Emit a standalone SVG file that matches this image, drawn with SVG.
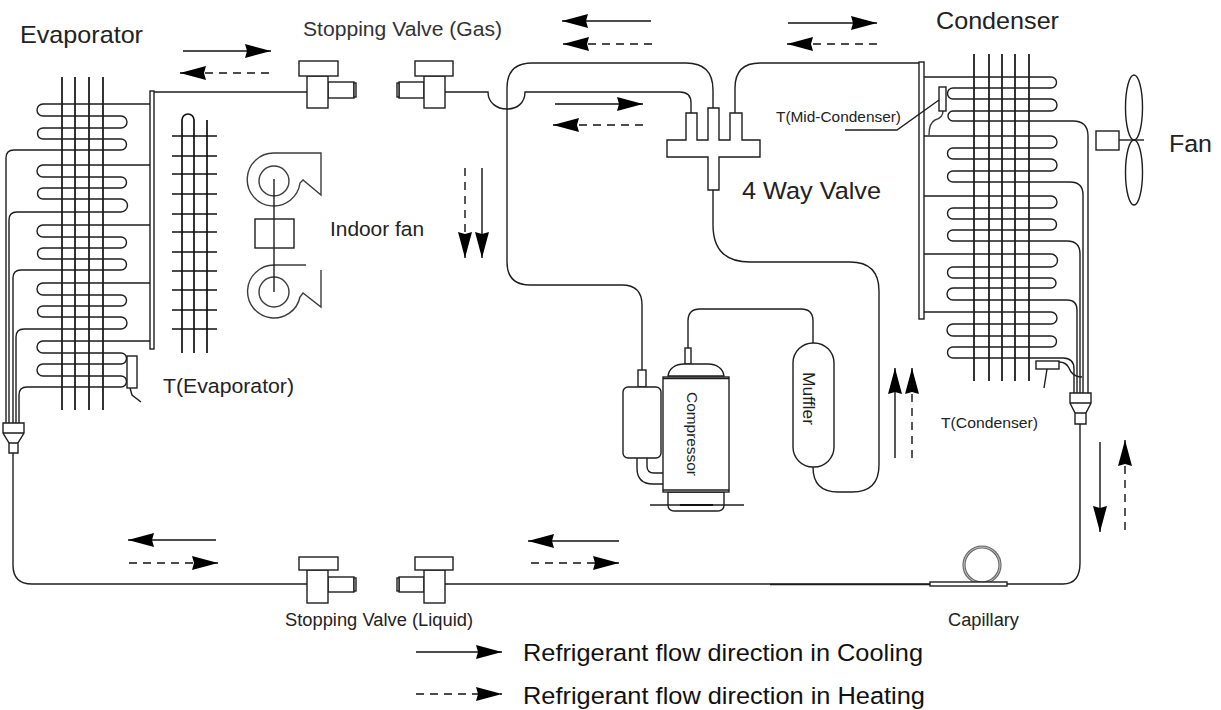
<svg xmlns="http://www.w3.org/2000/svg" width="1221" height="710" viewBox="0 0 1221 710">
<defs>
<style>
text{font-family:"Liberation Sans",Arial,sans-serif;fill:#222}
.l{fill:none;stroke:#1e1e1e;stroke-width:1.4}
.f{fill:none;stroke:#111;stroke-width:1.7}
.b{fill:#fff;stroke:#1e1e1e;stroke-width:1.4}
.g{fill:none;stroke:#3c3c3c;stroke-width:1.4}
.s{fill:none;stroke:#111;stroke-width:1.4;marker-end:url(#h)}
.d{fill:none;stroke:#111;stroke-width:1.4;stroke-dasharray:8 6;marker-end:url(#h)}
</style>
<marker id="h" markerUnits="userSpaceOnUse" markerWidth="28" markerHeight="16" refX="26" refY="8" orient="auto"><path d="M0 1L26 8L0 15L2 8Z" fill="#000"/></marker>
</defs>
<rect width="1221" height="710" fill="#fff"/>
<g id="connectors">
<path class="l" d="M154 92H307"/>
<path class="l" d="M445 92H488C488 103 497 109 507 109C517 109 525 103 525 92H680Q691 92 691 103V113"/>
<path class="l" d="M713 108V90Q713 63 686 63H532Q507 63 507 88V262Q507 285 530 285H622Q642 285 642 305V370"/>
<path class="l" d="M735 113V88Q735 63 760 63H919"/>
<path class="l" d="M713 190V225Q713 262 750 262H850Q879 262 879 291V465Q879 492 852 492H838Q813 492 813 467"/>
<path class="l" d="M813 343V321Q813 309 801 309H700Q688 309 688 321V348"/>
<path class="l" d="M637 458V468Q637 484 653 484H663"/>
<path class="l" d="M647 458V466Q647 473 654 473H663"/>
<path class="l" d="M13 453V565Q13 584 32 584H307"/>
<path class="l" d="M445 584H1063Q1080 584 1080 563V424"/>
<path class="l" d="M770 584.500H930" stroke-width="2"/>
</g>
<g id="flow-arrows">
<path class="s" d="M183 51H271"/><path class="d" d="M269 73H180"/>
<path class="s" d="M651 21H562"/><path class="d" d="M652 44H563"/>
<path class="s" d="M788 23H877"/><path class="d" d="M877 44H787"/>
<path class="s" d="M555 104H643"/><path class="d" d="M643 125H553"/>
<path class="d" d="M465 168V258"/><path class="s" d="M482 168V258"/>
<path class="s" d="M895 458V368"/><path class="d" d="M912 458V368"/>
<path class="s" d="M1100 442V532"/><path class="d" d="M1125 530V440"/>
<path class="s" d="M216 540H128"/><path class="d" d="M129 563H218"/>
<path class="s" d="M619 541H528"/><path class="d" d="M531 563H619"/>
</g>
<g id="evaporator">
<path class="f" d="M62 77V410M75 77V410M89 77V410M103 77V410"/>
<path class="l" d="M150 104H43A6 6 0 0 0 43 116H121A6 6 0 0 1 121 128H43A5.500 5.500 0 0 0 43 139H121A5.500 5.500 0 0 1 121 150H14Q6 150 6 158V423"/>
<path class="l" d="M150 165H43A6 6 0 0 0 43 177H121A5.500 5.500 0 0 1 121 188H43A5.500 5.500 0 0 0 43 199H121A6.500 6.500 0 0 1 121 212H17Q9 212 9 220V423"/>
<path class="l" d="M150 225H43A6 6 0 0 0 43 237H121A5.500 5.500 0 0 1 121 248H43A5.500 5.500 0 0 0 43 259H121A5.500 5.500 0 0 1 121 270H21Q13 270 13 278V423"/>
<path class="l" d="M150 283H43A6 6 0 0 0 43 295H121A5.500 5.500 0 0 1 121 306H43A5.500 5.500 0 0 0 43 317H121A6 6 0 0 1 121 329H24Q16 329 16 337V423"/>
<path class="l" d="M150 341H43A6 6 0 0 0 43 353H121A5.500 5.500 0 0 1 121 364H43A6 6 0 0 0 43 376H121A5.500 5.500 0 0 1 121 387H27Q19 387 19 395V423"/>
<rect class="b" x="150" y="91" width="4" height="258"/>
<path class="b" d="M3 423H24V433L18 443V453H9V443L3 433Z"/>
<path class="l" d="M3 433H24M9 443H18"/>
<text x="20" y="43" font-size="24" textLength="123" lengthAdjust="spacingAndGlyphs">Evaporator</text>
</g>
<g id="sensor-evaporator">
<rect class="b" x="127" y="356" width="10" height="32"/>
<path class="l" d="M130 388L132 395L141 402"/>
<text x="163" y="393" font-size="20.500" textLength="131" lengthAdjust="spacingAndGlyphs">T(Evaporator)</text>
</g>
<g id="indoor-coil">
<path class="f" d="M182 353V120A6 6 0 0 1 194 120V353M207 120V353"/>
<path class="f" d="M172 136H217M172 156H217M172 174H217M172 194H217M172 214H217M172 232H217M172 252H217M172 271H217M172 290H217M172 310H217M172 329H217"/>
</g>
<g id="indoor-fan">
<path class="g" d="M321 153H274A26.500 26.500 0 1 0 300 183L303 180L321 195V153Z"/>
<circle class="g" cx="274" cy="181" r="15"/>
<path class="g" d="M274 265H306M274 265A26.500 26.500 0 1 0 300 297L303 293L321 307V270"/>
<circle class="g" cx="274" cy="292" r="15"/>
<path class="l" d="M274 179V292"/>
<rect class="l" x="255" y="219" width="39" height="29"/>
<text x="330" y="236" font-size="20.500" textLength="94" lengthAdjust="spacingAndGlyphs">Indoor fan</text>
</g>
<g id="valve-gas-left">
<rect class="b" x="328" y="82" width="26" height="16"/><rect class="b" x="354" y="83" width="2" height="14"/>
<rect class="b" x="307" y="76" width="21" height="32"/><rect class="b" x="299" y="61" width="39" height="15"/>
</g>
<g id="valve-gas-right">
<rect class="b" x="399" y="82" width="25" height="16"/><rect class="b" x="397" y="83" width="2" height="14"/>
<rect class="b" x="424" y="76" width="21" height="32"/><rect class="b" x="415" y="61" width="38" height="15"/>
<text x="303" y="36" font-size="20.500" textLength="199" lengthAdjust="spacingAndGlyphs" style="fill:#333">Stopping Valve (Gas)</text>
</g>
<g id="valve-liquid-left">
<rect class="b" x="328" y="577" width="26" height="15"/><rect class="b" x="354" y="578" width="2" height="13"/>
<rect class="b" x="307" y="570" width="21" height="33"/><rect class="b" x="299" y="557" width="39" height="13"/>
</g>
<g id="valve-liquid-right">
<rect class="b" x="399" y="577" width="25" height="15"/><rect class="b" x="397" y="578" width="2" height="13"/>
<rect class="b" x="424" y="570" width="21" height="33"/><rect class="b" x="415" y="557" width="38" height="13"/>
<text x="285" y="626" font-size="18" textLength="188" lengthAdjust="spacingAndGlyphs">Stopping Valve (Liquid)</text>
</g>
<g id="four-way-valve">
<path class="b" d="M667 140H686V113H697V140H708V108H719V140H730V113H742V140H760V157H719V190H708V157H667Z"/>
<text x="742" y="199" font-size="24.500" textLength="139" lengthAdjust="spacingAndGlyphs">4 Way Valve</text>
</g>
<g id="compressor">
<rect class="b" x="638" y="370" width="8" height="17"/>
<rect class="b" x="623" y="387" width="38" height="71" rx="5"/>
<rect class="b" x="685" y="348" width="6" height="16"/>
<path class="b" d="M668 376C669 368 676 364 684 364H708C716 364 723 368 724 376Z"/>
<path class="b" d="M668 492V505C668 509 671 511 675 511H717C721 511 724 509 724 505V492Z"/>
<path class="l" d="M650 505H744"/><path d="M680 505H713" stroke="#111" stroke-width="2.200" fill="none"/>
<rect class="b" x="663" y="377" width="66" height="115"/>
<path class="l" d="M663 378.500H729M663 490H729"/>
<text transform="translate(687 392) rotate(90)" font-size="15.300" textLength="84" lengthAdjust="spacingAndGlyphs">Compressor</text>
</g>
<g id="muffler">
<rect class="b" x="793" y="343" width="41" height="124" rx="20" ry="20"/>
<text transform="translate(803 372) rotate(90)" font-size="17" textLength="53" lengthAdjust="spacingAndGlyphs">Muffler</text>
</g>
<g id="condenser">
<path class="f" d="M974 54V381M989 54V381M1002 54V381M1015 54V381M1029 54V381"/>
<path class="l" d="M924 77H1051A5.500 5.500 0 0 1 1051 88H953A5.500 5.500 0 0 0 953 99H1051A6 6 0 0 1 1051 111H953A5 5 0 0 0 953 121H1073Q1088 121 1088 136V393"/>
<path class="l" d="M924 136H1051A6 6 0 0 1 1051 148H953A5.500 5.500 0 0 0 953 159H1051A6 6 0 0 1 1051 171H953A5.500 5.500 0 0 0 953 182H1070Q1083 182 1083 195V393"/>
<path class="l" d="M924 196H1051A6 6 0 0 1 1051 208H953A5.500 5.500 0 0 0 953 219H1051A5.500 5.500 0 0 1 1051 230H953A5.500 5.500 0 0 0 953 241H1067Q1080 241 1080 254V393"/>
<path class="l" d="M924 254H1051A6.500 6.500 0 0 1 1051 267H953A5.500 5.500 0 0 0 953 278H1051A5 5 0 0 1 1051 288H953A6 6 0 0 0 953 300H1067Q1077 300 1077 310V393"/>
<path class="l" d="M924 312H1051A6 6 0 0 1 1051 324H953A6 6 0 0 0 953 336H1051A5.500 5.500 0 0 1 1051 347H953A5.500 5.500 0 0 0 953 358H1063Q1074 358 1074 369V393"/>
<rect class="b" x="919" y="62" width="5" height="257"/>
<path class="b" d="M1070 393H1091V403L1086 413V424H1075V413L1070 403Z"/>
<path class="l" d="M1070 403H1091M1075 413H1086"/>
<text x="936" y="29" font-size="24" textLength="123" lengthAdjust="spacingAndGlyphs">Condenser</text>
</g>
<g id="sensor-mid-condenser">
<path class="g" d="M943 111Q943 118 935 120Q929 123 929 135"/>
<path class="l" d="M939 100L897 130H845"/>
<rect class="b" x="939" y="87" width="7" height="24"/>
<text x="776" y="122" font-size="15" textLength="125" lengthAdjust="spacingAndGlyphs">T(Mid-Condenser)</text>
</g>
<g id="sensor-condenser">
<path class="l" d="M1059 362Q1066 362 1069 368Q1072 377 1082 377M1047 369L1044 388"/>
<rect class="b" x="1036" y="361" width="23" height="8"/>
<text x="941" y="428" font-size="15.500" textLength="97" lengthAdjust="spacingAndGlyphs">T(Condenser)</text>
</g>
<g id="fan">
<ellipse class="l" cx="1134" cy="107.500" rx="8.500" ry="32.500"/>
<ellipse class="l" cx="1134" cy="172.500" rx="8.500" ry="32.500"/>
<rect class="l" x="1096" y="131" width="23" height="19"/>
<path class="l" d="M1119 140H1144"/>
<text x="1169" y="152" font-size="24.500" textLength="43" lengthAdjust="spacingAndGlyphs">Fan</text>
</g>
<g id="capillary">
<circle cx="982" cy="565" r="18" fill="none" stroke="#666" stroke-width="3.200"/>
<circle cx="982" cy="565" r="18" fill="none" stroke="#ddd" stroke-width=".8"/>
<rect class="b" x="930" y="582" width="77" height="4"/>
<text x="948" y="626" font-size="18" textLength="71" lengthAdjust="spacingAndGlyphs">Capillary</text>
</g>
<g id="legend">
<path class="s" d="M416 652H502"/>
<path class="d" d="M416 694H502"/>
<text x="523" y="661" font-size="24.500" textLength="400" lengthAdjust="spacingAndGlyphs" style="fill:#111">Refrigerant flow direction in Cooling</text>
<text x="523" y="704" font-size="24.500" textLength="402" lengthAdjust="spacingAndGlyphs" style="fill:#111">Refrigerant flow direction in Heating</text>
</g>
</svg>
